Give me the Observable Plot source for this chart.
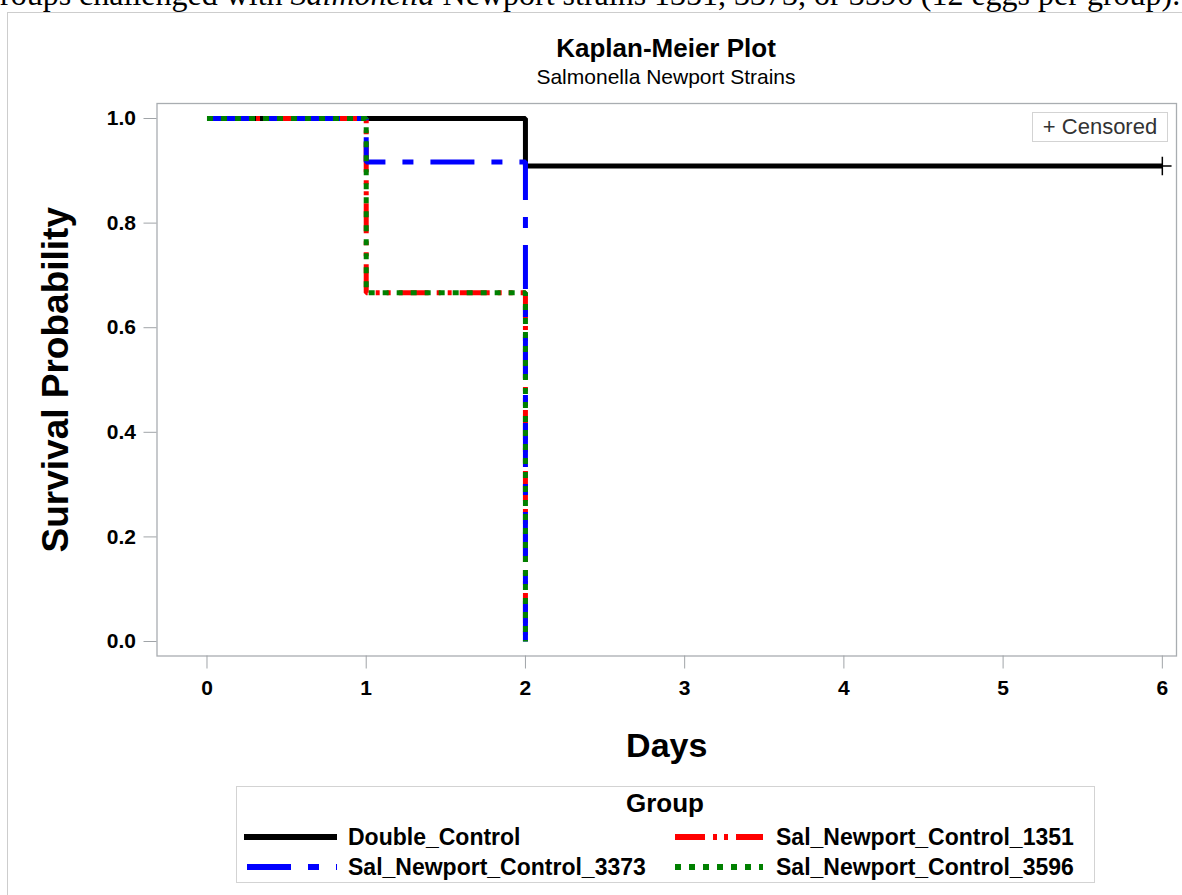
<!DOCTYPE html>
<html><head><meta charset="utf-8">
<script src="https://cdn.jsdelivr.net/npm/d3@7"></script>
<script src="https://cdn.jsdelivr.net/npm/@observablehq/plot@0.6"></script>
<style>
body{margin:0;width:1182px;height:895px;overflow:hidden;background:#fff;position:relative;font-family:"Liberation Sans",Arial,sans-serif;color:#000;}
#cap{position:absolute;left:0;top:-22px;font-family:"Liberation Serif","Times New Roman",serif;font-size:32px;line-height:32px;white-space:nowrap;}
#outer{position:absolute;left:7px;top:12px;width:1200px;height:900px;border:1px solid #cdcdcd;box-sizing:border-box;}
.ctr{position:absolute;left:0;width:1332px;text-align:center;white-space:nowrap;}
#title{top:33px;font-size:26px;line-height:30px;font-weight:bold;}
#subtitle{top:65px;font-size:21px;line-height:24px;}
#chart{position:absolute;left:0;top:90px;}
#censored{position:absolute;left:1032px;top:112px;width:136px;height:30px;border:1px solid #d3d3d3;box-sizing:border-box;font-size:22px;line-height:28px;text-align:center;color:#333;background:#fff;white-space:nowrap;}
</style></head><body>
<div id="cap">roups challenged with <i>Salmonella</i> Newport strains 1351, 3373, or 3596 (12 eggs per group).</div>
<div id="outer"></div>
<div id="title" class="ctr">Kaplan-Meier Plot</div>
<div id="subtitle" class="ctr">Salmonella Newport Strains</div>
<div id="chart"></div>
<div id="censored">+ Censored</div>
<svg id="legend-svg" width="1182" height="895" style="position:absolute;left:0;top:0;pointer-events:none"></svg>
<script>
// ---- data ----
const groups = ["Double_Control", "Sal_Newport_Control_1351", "Sal_Newport_Control_3373", "Sal_Newport_Control_3596"];
const colors = ["#000000", "#ff0000", "#0000ff", "#008000"];
const dashes = [null, "30,8,4,7,4,8", "44,17,11,17", "6,8"];
const doubleDays = [0, 2, 6];
const doubleSurv = [1.0, 0.909, 0.909];
const sal1351Days = [0, 1, 2];
const sal1351Surv = [1.0, 0.6667, 0.0];
const sal3373Days = [0, 1, 2];
const sal3373Surv = [1.0, 0.9167, 0.0];
const sal3596Days = [0, 1, 2];
const sal3596Surv = [1.0, 0.6667, 0.0];
const censorDays = [6];
const censorSurv = [0.909];
const xTicks = [0, 1, 2, 3, 4, 5, 6];
const yTicks = [0.0, 0.2, 0.4, 0.6, 0.8, 1.0];

const series = [
  {group: groups[0], days: doubleDays, surv: doubleSurv},
  {group: groups[1], days: sal1351Days, surv: sal1351Surv},
  {group: groups[2], days: sal3373Days, surv: sal3373Surv},
  {group: groups[3], days: sal3596Days, surv: sal3596Surv}
];
const rows = series.flatMap(s => s.days.map((d, i) => ({group: s.group, day: d, surv: s.surv[i]})));
const censor = censorDays.map((d, i) => ({day: d, surv: censorSurv[i]}));

// ---- layout ----
const W = 1182, svgTop = 90, svgH = 700;
const frameL = 156.5, frameR = 1176, frameT = 103, frameB = 655.5;
const font = "'Liberation Sans', Arial, sans-serif";

const lineMarks = groups.map((g, i) => Plot.line(rows.filter(r => r.group === g), {
  x: "day", y: "surv", curve: "step-after",
  stroke: colors[i], strokeWidth: 5, strokeDasharray: dashes[i],
  strokeLinecap: "butt", strokeLinejoin: "miter"
}));

const plot = Plot.plot({
  width: W, height: svgH,
  marginLeft: frameL, marginRight: W - frameR,
  marginTop: frameT - svgTop, marginBottom: svgTop + svgH - frameB,
  x: {domain: [-0.314, 6.089]},
  y: {domain: [-0.0277, 1.0287]},
  style: {fontFamily: font, background: "transparent", overflow: "visible", color: "#000"},
  marks: [
    Plot.frame({stroke: "#a9adb1", strokeWidth: 1.3}),
    Plot.axisX(xTicks, {label: null, tickSize: 13, tickPadding: 11, fontSize: 21, fontWeight: "bold", stroke: "#a0a4a8", fill: "#000", tickFormat: d3.format("d")}),
    Plot.axisY(yTicks, {label: null, tickSize: 13, tickPadding: 8, fontSize: 21, fontWeight: "bold", stroke: "#a0a4a8", fill: "#000", tickFormat: d3.format(".1f")}),
    Plot.text(["Survival Probability"], {frameAnchor: "left", rotate: -90, dx: -101, fontSize: 37, fontWeight: "bold", textAnchor: "middle", lineAnchor: "middle", fill: "#000"}),
    Plot.text(["Days"], {frameAnchor: "bottom", dy: 90, fontSize: 34, fontWeight: "bold", textAnchor: "middle", lineAnchor: "middle", fill: "#000"}),
    ...lineMarks,
    Plot.dot(censor, {x: "day", y: "surv", symbol: "plus", r: 6, stroke: "#000", strokeWidth: 1.5})
  ]
});
document.getElementById("chart").appendChild(plot);

// ---- legend (below the chart) ----
const lg = d3.select("#legend-svg");
lg.append("rect").attr("x", 236.5).attr("y", 786.5).attr("width", 858).attr("height", 96)
  .attr("fill", "#fff").attr("stroke", "#d3d3d3");
lg.append("text").attr("x", 665).attr("y", 803).attr("dy", "0.36em").attr("text-anchor", "middle")
  .attr("font-family", font).attr("font-weight", "bold").attr("font-size", 26).text("Group");
const pos = [
  {sx: 244, ex: 337, tx: 348, y: 837},
  {sx: 675, ex: 763, tx: 776, y: 837},
  {sx: 247, ex: 337, tx: 348, y: 867},
  {sx: 675, ex: 763, tx: 776, y: 867}
];
groups.forEach((g, i) => {
  const p = pos[i];
  lg.append("line").attr("x1", p.sx).attr("x2", p.ex).attr("y1", p.y).attr("y2", p.y)
    .attr("stroke", colors[i]).attr("stroke-width", 6).attr("stroke-dasharray", dashes[i]);
  lg.append("text").attr("x", p.tx).attr("y", p.y).attr("dy", "0.36em")
    .attr("font-family", font).attr("font-weight", "bold").attr("font-size", 23).text(g);
});
</script>
</body></html>
